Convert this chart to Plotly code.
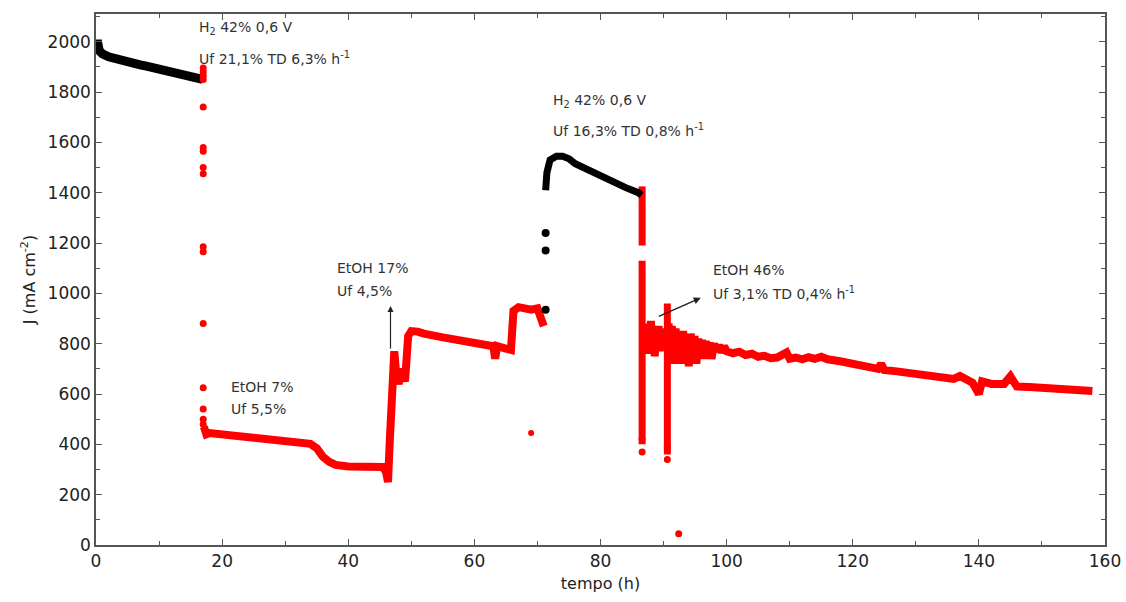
import plotly.graph_objects as go

# --- H2 42 % 0,6 V, first period (black) ---
h2a_t = [0, 0.2, 0.5, 1, 2, 3, 4, 5, 6, 7, 8, 9, 10, 11, 12, 13, 14, 15, 16, 16.9]
h2a_j = [1985, 2005, 1965, 1952, 1940, 1932, 1925, 1920, 1914, 1908, 1903, 1898,
         1892, 1886, 1880, 1874, 1868, 1862, 1856, 1850]

# --- switch to EtOH at ~17 h (red scattered points) ---
sw1_t = [17.0] * 16
sw1_j = [1895, 1880, 1865, 1850, 1740, 1580, 1565, 1500, 1475, 1185, 1165,
         880, 625, 540, 500, 480]

# --- EtOH 7 % then EtOH 17 % (red) ---
et1_t = [17.1, 17.5, 18, 20, 22, 25, 28, 31, 34, 35, 36, 37, 38, 40, 42, 44, 45.5,
         46, 46.3, 46.6, 47, 47.3, 47.6, 48, 48.5, 49, 49.5, 50, 51, 52, 55, 58, 61,
         63, 63.3, 63.6, 65, 65.8, 66.2, 67, 68, 69, 70, 70.5, 71]
et1_j = [470, 440, 445, 440, 435, 428, 420, 412, 402, 385, 350, 330, 318, 312, 310,
         310, 310, 290, 250, 420, 700, 770, 680, 640, 700, 650, 830, 850, 848, 840,
         825, 810, 795, 790, 740, 790, 780, 775, 930, 945, 940, 935, 940, 900, 870]
et1_iso_t = [69.0]
et1_iso_j = [445]

# --- H2 42 % 0,6 V, second period (black) ---
sw2_t = [71.3, 71.3, 71.3]
sw2_j = [935, 1170, 1240]
h2b_t = [71.3, 71.5, 72, 73, 74, 75, 76, 78, 80, 82, 84, 86, 86.5]
h2b_j = [1410, 1480, 1530, 1545, 1545, 1535, 1515, 1490, 1465, 1440, 1420, 1400, 1390]

# --- switch to EtOH 46 % at ~86.6 h (red columns) ---
col_t = [86.6, 86.6, None, 86.6, 86.6, None, 90.6, 90.6]
col_j = [1425, 1190, None, 1130, 400, None, 960, 360]
col_pts_t = [86.6, 86.6, 90.6, 90.6, 92.4]
col_pts_j = [370, 420, 340, 390, 45]

# --- EtOH 46 % (red) ---
et2_t = [86.8, 87.0, 87.2, 87.4, 87.6, 87.8, 88.0, 88.2, 88.4, 88.6, 88.8, 89.0,
         89.2, 89.4, 89.6, 89.8, 90.0, 90.3, 90.8, 91.0, 91.3, 91.6, 91.9, 92.2,
         92.5, 92.8, 93.1, 93.4, 93.7, 94.0, 94.3, 94.6, 94.9, 95.2, 95.5, 95.8,
         96.1, 96.4, 96.7, 97.0, 97.3, 97.6, 98.0, 98.4, 98.8, 99.2, 99.6,
         100, 101, 102, 103, 104, 105, 106, 107, 108, 109.5, 110, 111, 112, 113,
         114, 115, 116, 118, 120, 122, 124, 124.5, 125, 127, 130, 132, 134, 136,
         137, 138, 139, 140, 140.5, 142, 144, 145, 146, 148, 150, 152, 154, 156, 158]
et2_j = [880, 780, 860, 760, 870, 780, 890, 770, 860, 750, 850, 790,
         870, 770, 850, 790, 860, 800, 880, 760, 870, 720, 860, 760,
         850, 720, 850, 760, 840, 710, 840, 760, 830, 720, 820, 760,
         815, 740, 810, 770, 805, 740, 800, 770, 795, 765, 790,
         770, 762, 768, 755, 760, 748, 752, 742, 745, 765, 740, 745, 738, 746,
         740, 748, 738, 730, 720, 705, 700, 720, 695, 690, 680, 670, 665, 660,
         672, 655, 645, 600, 650, 640, 640, 670, 630, 628, 625, 620, 618, 615, 612]

RED = "#ff0000"
BLACK = "#000000"

fig = go.Figure()
fig.add_trace(go.Scatter(x=h2a_t, y=h2a_j, mode="lines",
                         line=dict(color=BLACK, width=9), hoverinfo="skip"))
fig.add_trace(go.Scatter(x=et1_t, y=et1_j, mode="lines",
                         line=dict(color=RED, width=8), hoverinfo="skip"))
fig.add_trace(go.Scatter(x=sw1_t, y=sw1_j, mode="markers",
                         marker=dict(color=RED, size=7), hoverinfo="skip"))
fig.add_trace(go.Scatter(x=et1_iso_t, y=et1_iso_j, mode="markers",
                         marker=dict(color=RED, size=6), hoverinfo="skip"))
fig.add_trace(go.Scatter(x=col_t, y=col_j, mode="lines",
                         line=dict(color=RED, width=7), hoverinfo="skip"))
fig.add_trace(go.Scatter(x=col_pts_t, y=col_pts_j, mode="markers",
                         marker=dict(color=RED, size=7), hoverinfo="skip"))
fig.add_trace(go.Scatter(x=et2_t, y=et2_j, mode="lines",
                         line=dict(color=RED, width=8), hoverinfo="skip"))
fig.add_trace(go.Scatter(x=h2b_t, y=h2b_j, mode="lines",
                         line=dict(color=BLACK, width=7), hoverinfo="skip"))
fig.add_trace(go.Scatter(x=sw2_t, y=sw2_j, mode="markers",
                         marker=dict(color=BLACK, size=8), hoverinfo="skip"))

TXT = dict(family="DejaVu Sans, Arial, sans-serif", size=14, color="#333333")

labels = [
    (16.0, 2056, "H<sub>2</sub> 42% 0,6 V"),
    (16.0, 1936, "Uf 21,1% TD 6,3% h<sup>-1</sup>"),
    (72.2, 1765, "H<sub>2</sub> 42% 0,6 V"),
    (72.2, 1650, "Uf 16,3% TD 0,8% h<sup>-1</sup>"),
    (21.1, 628, "EtOH 7%"),
    (21.1, 541, "Uf 5,5%"),
    (37.9, 1101, "EtOH 17%"),
    (37.9, 1010, "Uf 4,5%"),
    (97.6, 1093, "EtOH 46%"),
    (97.6, 1002, "Uf 3,1% TD 0,4% h<sup>-1</sup>"),
]
for x, y, s in labels:
    fig.add_annotation(x=x, y=y, text=s, showarrow=False, xanchor="left",
                       yanchor="middle", font=TXT)

# arrows pointing towards the EtOH labels
fig.add_annotation(x=46.7, y=950, ax=46.7, ay=775, axref="x", ayref="y", text="",
                   showarrow=True, arrowhead=2, arrowsize=1, arrowwidth=1.2,
                   arrowcolor="#222222")
fig.add_annotation(x=95.9, y=982, ax=89.0, ay=906, axref="x", ayref="y", text="",
                   showarrow=True, arrowhead=2, arrowsize=1, arrowwidth=1.4,
                   arrowcolor="#222222")

AX = dict(showline=True, linecolor="#555555", linewidth=1.5, mirror="ticks",
          ticks="inside", ticklen=6, tickcolor="#555555", tickwidth=1.2,
          showgrid=False, zeroline=False, automargin=False,
          tickfont=dict(family="DejaVu Sans, Arial, sans-serif", size=17,
                        color="#222222"))

fig.update_layout(
    width=1126, height=602,
    margin=dict(l=96, r=21, t=14, b=57),
    paper_bgcolor="white", plot_bgcolor="white",
    showlegend=False,
    xaxis=dict(range=[0, 160], dtick=20,
               minor=dict(dtick=10, ticks="inside", ticklen=4, tickcolor="#555555"),
               title=dict(text="tempo (h)", standoff=8,
                          font=dict(family="DejaVu Sans, Arial, sans-serif",
                                    size=16, color="#222222")),
               **AX),
    yaxis=dict(range=[0, 2110], dtick=200,
               minor=dict(dtick=100, ticks="inside", ticklen=4, tickcolor="#555555"),
               title=dict(text="J (mA cm<sup>-2</sup>)", standoff=8,
                          font=dict(family="DejaVu Sans, Arial, sans-serif",
                                    size=16, color="#222222")),
               **AX),
)

fig.write_html("out.html")
